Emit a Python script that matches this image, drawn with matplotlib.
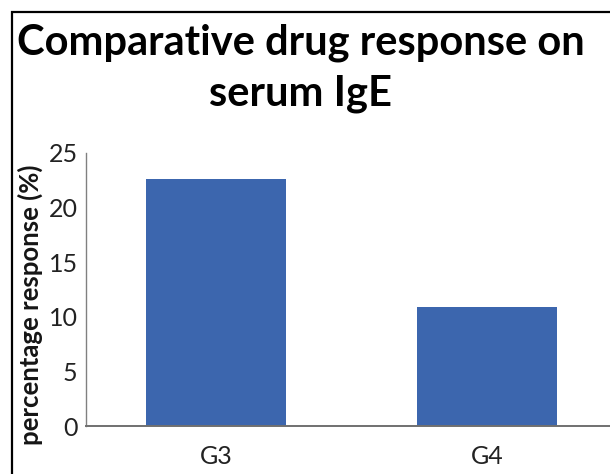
import matplotlib.pyplot as plt
from matplotlib.patches import Rectangle

groups = ["G3", "G4"]
response = [22.6, 10.9]
yticks = [0, 5, 10, 15, 20, 25]

bar_color = "#3C66AE"

fig = plt.figure(figsize=(6.1, 4.74), dpi=100)
fig.patch.set_facecolor("white")

# frame around the whole chart (cut at right and bottom like the source)
fig.patches.append(Rectangle((12 / 610, -0.2), 2.0, 1.2 - 12 / 474,
                             transform=fig.transFigure, fill=False,
                             edgecolor="black", linewidth=1.6))

ax = fig.add_axes([86 / 610, 1 - 426 / 474, 1 - 86 / 610, (426 - 153) / 474])
ax.bar(range(len(groups)), response, width=0.52, color=bar_color)

ax.set_xlim(-0.48, 1.454)
ax.set_ylim(0, 25)
ax.set_yticks(yticks)
ax.set_xticks(range(len(groups)))
ax.set_xticklabels(groups)
ax.tick_params(axis="both", length=0, labelsize=18, labelcolor="#222222")
ax.tick_params(axis="x", pad=14)
ax.tick_params(axis="y", pad=6)
for lab in ax.get_xticklabels() + ax.get_yticklabels():
    lab.set_family("Lato")

ax.spines["top"].set_visible(False)
ax.spines["right"].set_visible(False)
ax.spines["left"].set_color("#808080")
ax.spines["bottom"].set_color("#707070")
ax.spines["left"].set_linewidth(1.0)
ax.spines["bottom"].set_linewidth(1.4)

ax.set_ylabel("percentage response (%)", fontsize=18.5, family="Lato",
              fontweight="bold", color="#151515")
ax.yaxis.set_label_coords(-0.082, 0.445)

fig.text(0.493, 1 - 24 / 474, "Comparative drug response on\nserum IgE",
         ha="center", va="top", fontsize=30, fontweight="bold",
         family="Lato", linespacing=1.38, color="black")

fig.savefig("out.png", dpi=100, facecolor="white")
